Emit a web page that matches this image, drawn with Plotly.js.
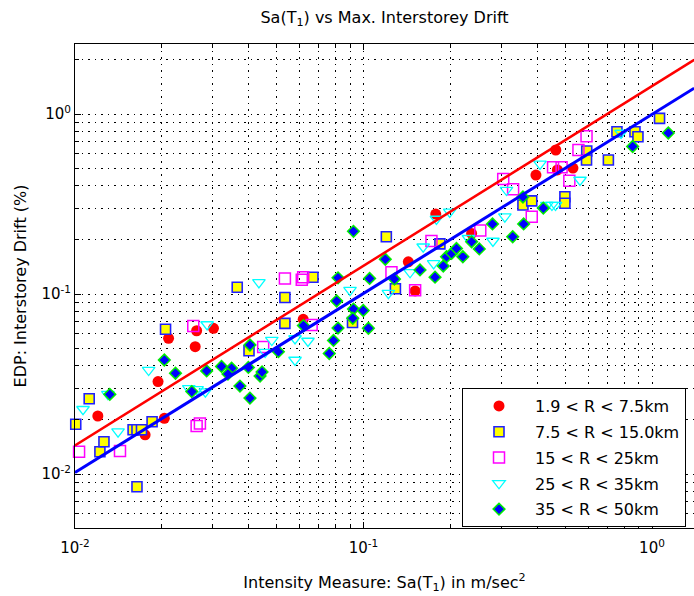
<!DOCTYPE html>
<html><head><meta charset="utf-8">
<script src="https://cdn.plot.ly/plotly-3.0.1.min.js"></script>
<style>html,body{margin:0;padding:0;background:#fff}</style>
</head><body>
<div id="chart" style="width:694px;height:596px"></div>
<script>
// ---- data ----
const seriesNames = ['1.9 < R < 7.5km', '7.5 < R < 15.0km', '15 < R < 25km', '25 < R < 35km', '35 < R < 50km'];

const redX = [0.0120, 0.0175, 0.0194, 0.0204, 0.0211, 0.0261, 0.0264, 0.0302, 0.0618, 0.143, 0.151, 0.178, 0.237, 0.396, 0.464, 0.470, 0.532];
const redY = [0.0210, 0.0165, 0.0326, 0.0204, 0.0567, 0.0510, 0.0625, 0.0645, 0.0723, 0.151, 0.104, 0.278, 0.217, 0.458, 0.631, 0.489, 0.501];

const yelX = [0.01006, 0.0112, 0.0122, 0.0126, 0.0159, 0.0164, 0.0170, 0.0185, 0.0164, 0.0206, 0.0365, 0.0401, 0.0534, 0.0534, 0.0668, 0.0916, 0.120, 0.129, 0.184, 0.357, 0.383, 0.499, 0.499, 0.594, 0.593, 0.706, 0.756, 0.873, 0.894, 1.062];
const yelY = [0.0189, 0.0262, 0.0133, 0.0151, 0.0176, 0.0176, 0.0176, 0.0195, 0.0085, 0.0637, 0.109, 0.0484, 0.0956, 0.0687, 0.124, 0.0694, 0.208, 0.107, 0.190, 0.312, 0.329, 0.347, 0.319, 0.623, 0.555, 0.555, 0.797, 0.797, 0.748, 0.946];

const magX = [0.01033, 0.01432, 0.0257, 0.0264, 0.0271, 0.0449, 0.0534, 0.0611, 0.0618, 0.0661, 0.125, 0.151, 0.172, 0.254, 0.305, 0.330, 0.383, 0.454, 0.486, 0.517, 0.556, 0.593];
const magY = [0.0133, 0.0134, 0.0664, 0.0185, 0.0191, 0.0508, 0.122, 0.120, 0.124, 0.0673, 0.132, 0.105, 0.197, 0.225, 0.436, 0.382, 0.269, 0.506, 0.506, 0.426, 0.631, 0.752];

const cyaX = [0.01066, 0.0130, 0.0141, 0.0180, 0.0248, 0.0265, 0.0283, 0.0287, 0.0434, 0.0456, 0.0481, 0.0579, 0.0642, 0.0579, 0.0898, 0.122, 0.145, 0.161, 0.179, 0.199, 0.175, 0.231, 0.281, 0.309, 0.313, 0.409, 0.432, 0.450, 0.463, 0.563, 0.781];
const cyaY = [0.0229, 0.0278, 0.0172, 0.0378, 0.0299, 0.0295, 0.0287, 0.0677, 0.116, 0.0476, 0.0555, 0.0566, 0.0548, 0.0430, 0.105, 0.101, 0.132, 0.183, 0.261, 0.286, 0.148, 0.204, 0.197, 0.269, 0.378, 0.528, 0.312, 0.312, 0.312, 0.430, 0.784];

const dimX = [0.0132, 0.0204, 0.0223, 0.0254, 0.0286, 0.0322, 0.0349, 0.0339, 0.0373, 0.0404, 0.0399, 0.0438, 0.0445, 0.0404, 0.0507, 0.0619, 0.0761, 0.0787, 0.0816, 0.0807, 0.0816, 0.0923, 0.0923, 0.0998, 0.104, 0.105, 0.0918, 0.119, 0.128, 0.157, 0.177, 0.189, 0.194, 0.202, 0.210, 0.221, 0.237, 0.252, 0.280, 0.329, 0.359, 0.357, 0.420, 0.857, 1.139];
const dimY = [0.0277, 0.0430, 0.0363, 0.0287, 0.0374, 0.0396, 0.0387, 0.0359, 0.0308, 0.0264, 0.0391, 0.0350, 0.0369, 0.0521, 0.0478, 0.0668, 0.0467, 0.0552, 0.0647, 0.0914, 0.123, 0.223, 0.0825, 0.0810, 0.0645, 0.122, 0.0733, 0.156, 0.121, 0.136, 0.124, 0.143, 0.161, 0.168, 0.179, 0.161, 0.195, 0.178, 0.245, 0.208, 0.245, 0.346, 0.300, 0.660, 0.784];

const fitX = [0.01, 1.4];
const redFitY = [0.0144, 2.0];
const blueFitY = [0.0102, 1.39];

const xMajor = [0.01, 0.1, 1];
const xMajorText = ['10<sup>-2</sup>', '10<sup>-1</sup>', '10<sup>0</sup>'];
const yMajor = [0.01, 0.1, 1];
const yMajorText = ['10<sup>-2</sup>', '10<sup>-1</sup>', '10<sup>0</sup>'];
const xMinor = [0.02,0.03,0.04,0.05,0.06,0.07,0.08,0.09,0.2,0.3,0.4,0.5,0.6,0.7,0.8,0.9];
const yMinor = [0.005,0.006,0.007,0.008,0.009,0.02,0.03,0.04,0.05,0.06,0.07,0.08,0.09,0.2,0.3,0.4,0.5,0.6,0.7,0.8,0.9,2];

// ---- chart ----
const FONT = 'DejaVu Sans, sans-serif';
function pts(x, y, name, marker, i) {
  return {type:'scatter', mode:'markers', x:x, y:y, name:name, marker:marker,
          cliponaxis:false, legendgroup:'g'+i, showlegend:true};
}
const traces = [
  pts(redX, redY, seriesNames[0], {symbol:'circle', size:11, color:'#ff0000', line:{width:0}}, 0),
  pts(yelX, yelY, seriesNames[1], {symbol:'square', size:10, color:'#ffff00', line:{width:1.6, color:'#2020ff'}}, 1),
  pts(magX, magY, seriesNames[2], {symbol:'square-open', size:11, color:'#ff00ff', line:{width:1.5, color:'#ff00ff'}}, 2),
  pts(cyaX, cyaY, seriesNames[3], {symbol:'triangle-down-open', size:11, color:'#00ffff', line:{width:1.3, color:'#00ffff'}}, 3),
  pts(dimX, dimY, seriesNames[4], {symbol:'diamond', size:9, color:'#0000ff', line:{width:1.5, color:'#00ee00'}}, 4),
  {type:'scatter', mode:'lines', x:fitX, y:redFitY, line:{color:'#ff0000', width:2.5}, showlegend:false},
  {type:'scatter', mode:'lines', x:fitX, y:blueFitY, line:{color:'#0000ff', width:3}, showlegend:false}
];

const gridCommon = {showgrid:true, gridcolor:'#000', gridwidth:1, griddash:'1.5px,5px'};
const layout = {
  width:694, height:596,
  margin:{l:75, r:0, t:44, b:68},
  paper_bgcolor:'#fff', plot_bgcolor:'#fff',
  font:{family:FONT, size:15, color:'#000'},
  title:{text:'Sa(T<sub>1</sub>) vs Max. Interstorey Drift', font:{family:FONT, size:16, color:'#000'},
         x:0.5, xref:'paper', y:1-17/596, yref:'container', yanchor:'middle'},
  showlegend:true,
  legend:{x:(462-75)/619, y:(528-388)/484, xanchor:'left', yanchor:'top',
          bgcolor:'#fff', bordercolor:'#000', borderwidth:1,
          font:{family:FONT, size:16, color:'#000'}, itemwidth:62, tracegroupgap:2},
  xaxis:Object.assign({type:'log', autorange:false,
    tickmode:'array', tickvals:xMajor, ticktext:xMajorText,
    ticks:'inside', ticklen:6, tickcolor:'#000', tickwidth:1, ticklabelstandoff:6,
    showline:true, linecolor:'#000', linewidth:1, mirror:'ticks', zeroline:false,
    tickfont:{family:FONT, size:15, color:'#000'},
    title:{text:'Intensity Measure: Sa(T<sub>1</sub>) in m/sec<sup>2</sup>', font:{family:FONT, size:16, color:'#000'}, standoff:20},
    minor:Object.assign({tickmode:'array', tickvals:xMinor, ticks:'inside', ticklen:4, tickcolor:'#000'}, gridCommon)
  }, gridCommon),
  yaxis:Object.assign({type:'log', range:[-2.3, 0.3889], autorange:false,
    tickmode:'array', tickvals:yMajor, ticktext:yMajorText,
    ticks:'inside', ticklen:6, tickcolor:'#000', tickwidth:1,
    showline:true, linecolor:'#000', linewidth:1, mirror:false, zeroline:false,
    tickfont:{family:FONT, size:15, color:'#000'},
    title:{text:'EDP: Interstorey Drift (%)', font:{family:FONT, size:16, color:'#000'}, standoff:10},
    minor:Object.assign({tickmode:'array', tickvals:yMinor, ticks:'inside', ticklen:4, tickcolor:'#000'}, gridCommon)
  }, gridCommon)
};
layout.xaxis.range = [-2, -2 + 619/288.5];
Plotly.newPlot('chart', traces, layout, {staticPlot:true, displayModeBar:false});
</script>
</body></html>
